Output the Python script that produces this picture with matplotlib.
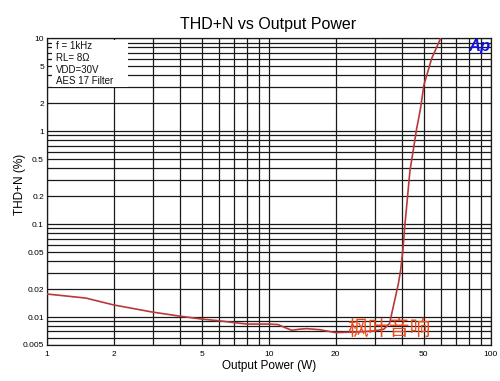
import numpy as np
import matplotlib
matplotlib.use('Agg')
import matplotlib.pyplot as plt

plt.rcParams['font.family'] = ['Liberation Sans', 'DejaVu Sans']

# --- data ---
power_w = [1, 1.5, 2, 3, 4, 5, 6, 7, 8, 10, 11, 12.0, 12.7, 13.8, 14.8, 17,
           20, 25, 30, 33, 35, 36.4, 38.4, 39.3, 40.2, 41.1, 43.3, 44.8, 46.4,
           47.2, 48.4, 50, 54.2, 59.5]
thdn_pct = [0.0177, 0.016, 0.0135, 0.0113, 0.0102, 0.0095, 0.0091, 0.0087,
            0.0084, 0.0084, 0.0083, 0.0076, 0.0072, 0.0074, 0.0075, 0.0073,
            0.0068, 0.0069, 0.0071, 0.0074, 0.0085, 0.0129, 0.023, 0.032,
            0.052, 0.1, 0.38, 0.625, 1.07, 1.31, 1.82, 3.13, 6.05, 10]

x_labels = [1, 2, 5, 10, 20, 50, 100]
y_labels = [0.005, 0.01, 0.02, 0.05, 0.1, 0.2, 0.5, 1, 2, 5, 10]
conditions = ['f = 1kHz', 'RL= 8\u03a9', 'VDD=30V', 'AES 17 Filter']

fig = plt.figure(figsize=(5.0, 3.81), dpi=100)
ax = fig.add_axes([0.0934, 0.0945, 0.888, 0.805])
ax.set_xscale('log')
ax.set_yscale('log')
ax.set_xlim(1, 100)
ax.set_ylim(0.005, 10)

# grid at every 1..9 decade step
x_grid = [m * 10 ** e for e in range(0, 2) for m in range(1, 10)] + [100]
y_grid = [m * 10 ** e for e in range(-3, 1) for m in range(1, 10)
          if 0.005 <= m * 10 ** e <= 10] + [10]
ax.set_xticks(x_grid)
ax.set_xticklabels([('%g' % v) if v in x_labels else '' for v in x_grid])
ax.set_yticks(y_grid)
ax.set_yticklabels([('%g' % v) if any(abs(v - l) < 1e-9 for l in y_labels) else ''
                    for v in y_grid])
ax.minorticks_off()
ax.tick_params(length=0, labelsize=6, pad=2)
ax.tick_params(axis='x', pad=4)
ax.grid(True, which='major', color='#1a1a1a', linewidth=0.9)
for sp in ax.spines.values():
    sp.set_color('#1a1a1a')
    sp.set_linewidth(0.9)

ax.plot(power_w, thdn_pct, color='#b8393a', linewidth=1.2, zorder=3)

# condition box
ax.add_patch(plt.Rectangle((0.012, 0.841), 0.171, 0.153, transform=ax.transAxes,
                           facecolor='white', edgecolor='none', zorder=2.5))
for i, txt in enumerate(conditions):
    fig.text(56 / 500, 1 - (46 + i * 11.8) / 381, txt, fontsize=7,
             va='center', ha='left', color='#111111')

fig.text(268 / 500, 1 - 24 / 381, 'THD+N vs Output Power', fontsize=11.5,
         ha='center', va='center')
fig.text(269 / 500, 1 - 366 / 381, 'Output Power (W)', fontsize=8.5,
         ha='center', va='center')
fig.text(20.5 / 500, 1 - 184 / 381, 'THD+N (%)', fontsize=8.5, rotation=90,
         ha='center', va='center')

# Ap logo
fig.text(479 / 500, 1 - 47 / 381, 'Ap', fontsize=12, fontweight='bold',
         fontstyle='italic', color='#1010e0', ha='center', va='center', zorder=5)

# watermark
fig.text(389 / 500, 1 - 329 / 381, '枫叶音响', fontsize=15, color='#f04a1a',
         ha='center', va='center', family=['Noto Sans CJK SC', 'DejaVu Sans'],
         fontweight='light', zorder=6)

fig.savefig('out.png', dpi=100, facecolor='white')
